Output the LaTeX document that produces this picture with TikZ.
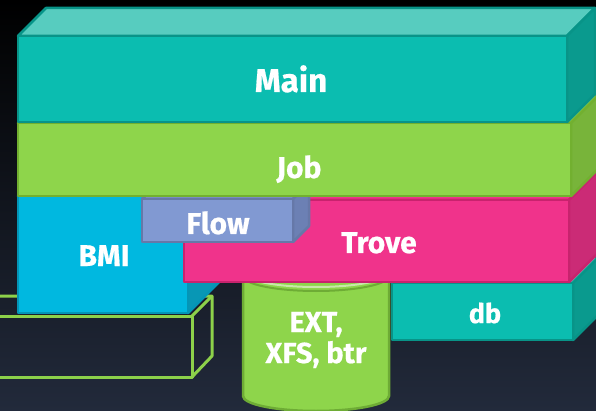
\documentclass[tikz,border=0pt]{standalone}
\usepackage{fontspec}
\setmainfont{Fira Sans}[BoldFeatures={FakeBold=0.6}]
\definecolor{bgbot}{HTML}{222A3B}
\definecolor{bgmid}{HTML}{0A0C12}
\definecolor{mainF}{HTML}{0BBDB0}
\definecolor{mainT}{HTML}{57CCBF}
\definecolor{mainS}{HTML}{0A9A8E}
\definecolor{mainB}{HTML}{089488}
\definecolor{jobF}{HTML}{8ED54B}
\definecolor{jobS}{HTML}{78B43A}
\definecolor{jobB}{HTML}{72B030}
\definecolor{trvF}{HTML}{F0338B}
\definecolor{trvS}{HTML}{CB2B76}
\definecolor{trvB}{HTML}{C8236E}
\definecolor{bmiF}{HTML}{00B8E0}
\definecolor{bmiS}{HTML}{0897B5}
\definecolor{bmiB}{HTML}{0495B6}
\definecolor{flwF}{HTML}{8199D2}
\definecolor{flwS}{HTML}{6C80B4}
\definecolor{flwB}{HTML}{6678A8}
\definecolor{cylF}{HTML}{8ED54B}
\definecolor{cylB}{HTML}{6EAC35}
\definecolor{cylR}{HTML}{C8E8A8}
\definecolor{wire}{HTML}{8DD14A}
% #1 x1, #2 y1, #3 x2, #4 y2, #5 depth, #6 front, #7 top, #8 side, #9 border
\newcommand\cubebox[9]{%
  \filldraw[face,fill=#7,draw=#9] (#1,#2) -- ++(#5,-#5) -- (#3+#5,#2-#5) -- (#3,#2) -- cycle;
  \filldraw[face,fill=#8,draw=#9] (#3,#2) -- (#3+#5,#2-#5) -- (#3+#5,#4-#5) -- (#3,#4) -- cycle;
  \filldraw[face,fill=#6,draw=#9] (#1,#2) rectangle (#3,#4);}
\begin{document}
\begin{tikzpicture}[x=1pt,y=-1pt,
  face/.style={line width=2.5pt,line join=round},
  lbl/.style={text=white,inner sep=0pt,anchor=base,font=\bfseries\fontsize{#1}{#1}\selectfont},
  wireline/.style={draw=wire,line width=3pt,line join=round}]
\useasboundingbox (0,0) rectangle (596,411);
\clip (0,0) rectangle (596,411);
\shade[top color=black,middle color=bgmid,bottom color=bgbot] (0,0) rectangle (596,411);
% wireframe box
\draw[wireline] (-5,296) -- (212,296) -- (212,356) -- (192,377);
\draw[wireline] (-5,316) -- (192,316) -- (192,377) -- (-5,377);
\draw[wireline] (192,316) -- (212,296);
% cylinder
\filldraw[fill=cylF,draw=cylB,line width=2.5pt] (243,273) -- (243,396)
  arc[start angle=180,end angle=0,x radius=73,y radius=15] -- (389,273) -- cycle;
\draw[cylB,line width=2pt] (243,276) arc[start angle=180,end angle=0,x radius=73,y radius=15];
\filldraw[fill=cylF,draw=cylR,line width=2pt] (316,273) ellipse[x radius=72,y radius=14];
% db
\cubebox{392}{283}{573}{340}{26}{mainF}{mainT}{mainS}{mainB}
% BMI
\cubebox{18}{196}{188}{313}{31}{bmiF}{bmiF}{bmiS}{bmiB}
% Trove
\cubebox{184}{200}{569}{282}{28}{trvF}{trvF}{trvS}{trvB}
% Flow
\cubebox{142}{199}{293}{242}{16}{flwF}{flwF}{flwS}{flwB}
% Job
\cubebox{18}{123}{571}{196}{28}{jobF}{jobF}{jobS}{jobB}
% Main
\cubebox{18}{36}{567}{122}{28}{mainF}{mainT}{mainS}{mainB}
% labels
\node[lbl=33] (main) at (291,92) {Main};
\node[lbl=30] (job) at (299,178) {Job};
\node[lbl=30] (bmi) at (104,266) {BMI};
\node[lbl=30] (flow) at (218,234) {Flow};
\node[lbl=30] (trove) at (379,253) {Trove};
\node[lbl=27] (db) at (485,323) {db};
\node[lbl=29,align=center] (fs) at (316,363) {EXT,\\[2pt]XFS, btr};
\end{tikzpicture}
\end{document}
